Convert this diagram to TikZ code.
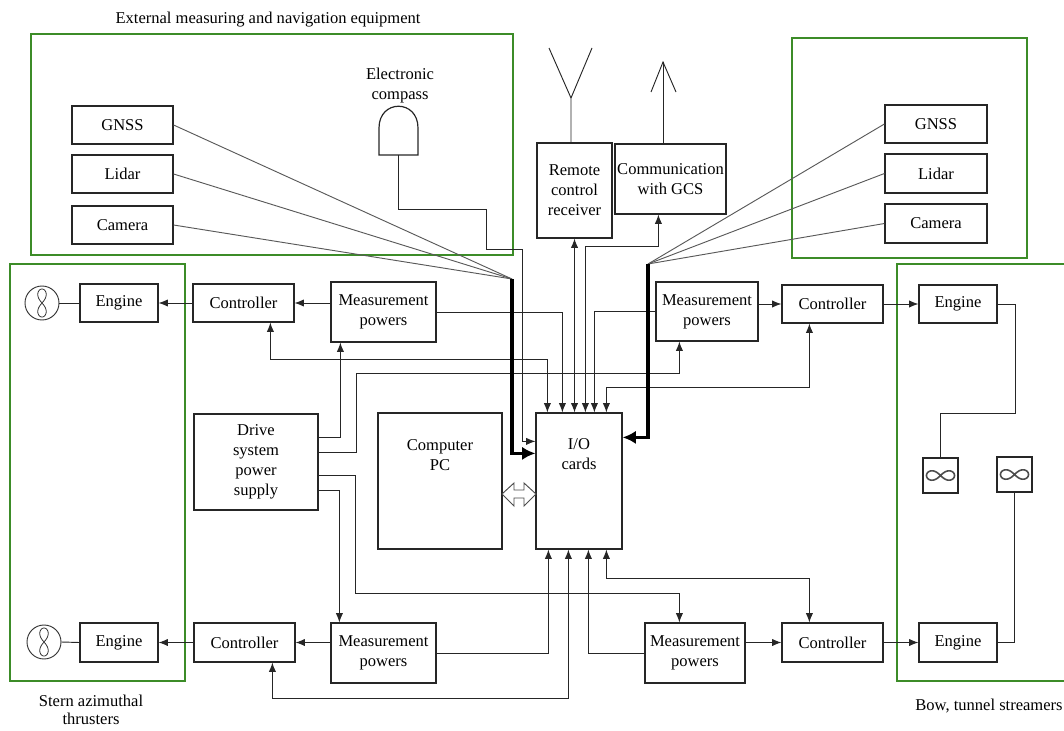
\documentclass[tikz,border=0pt]{standalone}
\usepackage{fontspec}
\setmainfont{Liberation Serif}
\usetikzlibrary{arrows.meta,calc}
\definecolor{grn}{RGB}{60,140,40}
\begin{document}
\begin{tikzpicture}[x=0.75pt,y=-0.75pt,
  every node/.style={font=\fontsize{12.4}{15}\selectfont},
  box/.style={draw=black!85, line width=0.9pt, inner sep=0pt, align=center},
  sz/.style 2 args={minimum width=#1*0.75pt, minimum height=#2*0.75pt},
  grp/.style={draw=grn, line width=1.5pt},
  ln/.style={draw=black!85, line width=0.7pt},
  fan/.style={draw=black!65, line width=0.7pt},
  ar/.style={ln, -{Latex[length=7pt,width=5.5pt]}},
  dar/.style={ln, {Latex[length=7pt,width=5.5pt]}-{Latex[length=7pt,width=5.5pt]}},
  thk/.style={draw=black, line width=2.6pt, -{Latex[length=10pt,width=10pt]}},
  txt/.style={align=center, inner sep=0pt}
]
\useasboundingbox (0,0) rectangle (1064,731);

% group frames
\draw[grp] (31,34) rectangle (513,255);
\draw[grp] (792,38) rectangle (1027,258);
\draw[grp] (10,264) rectangle (185,681);
\draw[grp] (1066,264) -- (897,264) -- (897,681) -- (1066,681);

% labels
\node[txt] (title) at (268,20) {External measuring and navigation equipment};
\node[txt, font=\fontsize{12.4}{14}\selectfont] (stern) at (91,710) {Stern azimuthal\\thrusters};
\node[txt] (bow) at (989,706) {Bow, tunnel streamers};
\node[txt] (cmplab) at (400,86) {Electronic\\compass};

% sensors
\node[box, sz={101}{38}] (gnssL) at (122.5,125) {GNSS};
\node[box, sz={101}{38}] (lidarL) at (122.5,174) {Lidar};
\node[box, sz={101}{38}] (camL) at (122.5,225) {Camera};
\node[box, sz={102}{38}] (gnssR) at (936,124) {GNSS};
\node[box, sz={102}{39}] (lidarR) at (936,173.5) {Lidar};
\node[box, sz={102}{39}] (camR) at (936,223.5) {Camera};

% compass
\draw[box] (379,155) -- (379,128) .. controls (379,99) and (418,99) .. (418,128) -- (418,155) -- cycle;
\coordinate (cmp) at (398.5,155);

% radio
\node[box, sz={75}{95}] (recv) at (574.5,190.5) {Remote\\control\\receiver};
\node[box, sz={111}{70}] (comm) at (670.5,179) {Communication\\with GCS};
\coordinate (a1) at (571,98);
\draw[ln] (recv.north -| a1) -- (a1) -- (549,48);
\draw[ln] (a1) -- (592,48);
\coordinate (a2) at (663,62);
\draw[ln] (comm.north -| a2) -- (a2);
\draw[ln] (651,92) -- (a2) -- (676,92);

% central
\node[box, sz={86}{136}] (io) at (579,481) {};
\node[txt] (iolab) at (579,454) {I/O\\cards};
\node[box, sz={124}{136}] (pc) at (440,481) {};
\node[txt] (pclab) at (440,455) {Computer\\PC};
\draw[draw=black!70, line width=0.7pt, fill=white]
  (502,494) -- (514,483) -- (514,490) -- (524,490) -- (524,483) -- (536,494)
  -- (524,506) -- (524,498) -- (514,498) -- (514,506) -- cycle;

% power / control chains
\node[box, sz={105}{60}] (measTL) at (383.5,312) {Measurement\\powers};
\node[box, sz={102}{59}] (measTR) at (707,311.5) {Measurement\\powers};
\node[box, sz={105}{60}] (measBL) at (383.5,653) {Measurement\\powers};
\node[box, sz={100}{60}] (measBR) at (695,653) {Measurement\\powers};
\node[box, sz={101}{38}] (ctlTL) at (243.5,303) {Controller};
\node[box, sz={101}{38}] (ctlTR) at (832.5,304) {Controller};
\node[box, sz={101}{39}] (ctlBL) at (244.5,642.5) {Controller};
\node[box, sz={101}{39}] (ctlBR) at (832.5,642.5) {Controller};
\node[box, sz={78}{38}] (engTL) at (119,303) {Engine};
\node[box, sz={78}{38}] (engTR) at (958,304) {Engine};
\node[box, sz={78}{39}] (engBL) at (119,642.5) {Engine};
\node[box, sz={78}{39}] (engBR) at (958,642.5) {Engine};
\node[box, sz={124}{96}] (drive) at (256,462) {Drive\\system\\power\\supply};
\node[box, sz={35}{35}] (infL) at (940.5,475.5) {};
\node[box, sz={35}{35}] (infR) at (1014.5,474.5) {};
\node[draw=black!80, line width=0.7pt, circle, minimum size=34*0.75pt, inner sep=0pt] (propTL) at (42,303) {};
\node[draw=black!80, line width=0.7pt, circle, minimum size=34*0.75pt, inner sep=0pt] (propBL) at (44,642) {};

% propeller and infinity symbols
\foreach \p in {propTL,propBL}
  \draw[line width=0.6pt, black!80, shift={(\p.center)}] plot[domain=0:360, samples=90, smooth]
    ({0.85*14*sin(\x)*cos(\x)/(1+sin(\x)*sin(\x))}, {14*cos(\x)/(1+sin(\x)*sin(\x))});
\foreach \p in {infL,infR}
  \draw[line width=1.2pt, black!70, shift={(\p.center)}] plot[domain=0:360, samples=90, smooth]
    ({14*cos(\x)/(1+sin(\x)*sin(\x))}, {0.95*14*sin(\x)*cos(\x)/(1+sin(\x)*sin(\x))});

% horizontal chains
\draw[ar] (measTL.west |- ctlTL.east) -- (ctlTL.east);
\draw[ar] (ctlTL.west) -- (engTL.east);
\draw[ln] (engTL.west) -- (propTL.east);
\draw[ar] (measBL.west |- ctlBL.east) -- (ctlBL.east);
\draw[ar] (ctlBL.west) -- (engBL.east);
\draw[ln] (engBL.west) -- (propBL.east);
\draw[ar] (measTR.east |- ctlTR.west) -- (ctlTR.west);
\draw[ar] (ctlTR.east) -- (engTR.west);
\draw[ar] (measBR.east |- ctlBR.west) -- (ctlBR.west);
\draw[ar] (ctlBR.east) -- (engBR.west);

% engines to motor symbols
\draw[ln] (engTR.east) -- ++(18,0) -- ++(0,109) -| (infL.north);
\draw[ln] (infR.south) |- (engBR.east);

% I/O pins
\coordinate (t1) at ($(io.north west)+(12,0)$);
\coordinate (t2) at ($(io.north west)+(27,0)$);
\coordinate (t3) at (recv.south |- io.north);
\coordinate (t4) at ($(io.north west)+(50,0)$);
\coordinate (t5) at ($(io.north west)+(59,0)$);
\coordinate (t6) at ($(io.north west)+(71,0)$);
\coordinate (b1) at ($(io.south west)+(13,0)$);
\coordinate (b2) at ($(io.south west)+(33,0)$);
\coordinate (b3) at ($(io.south west)+(53,0)$);
\coordinate (b4) at ($(io.south west)+(71,0)$);

\draw[dar] ($(ctlTL.south west)+(78,0)$) -- ++(0,37) -| (t1);
\draw[ar] (measTL.east) -| (t2);
\draw[dar] (recv.south) -- (t3);
\draw[dar] ($(comm.south west)+(44,0)$) -- ++(0,32) -| (t4);
\draw[ar] (measTR.west) -| (t5);
\draw[dar] ($(ctlTR.south west)+(28,0)$) -- ++(0,64) -| (t6);

\draw[ar] (measBL.east) -| (b1);
\draw[dar] ($(ctlBL.south west)+(79,0)$) -- ++(0,36) -| (b2);
\draw[ar] (measBR.west) -| (b3);
\draw[dar] ($(ctlBR.north west)+(28,0)$) -- ++(0,-44) -| (b4);

% drive supply outputs
\draw[ar] ($(drive.north east)+(0,24)$) -| ($(measTL.south west)+(10,0)$);
\draw[ar] ($(drive.north east)+(0,39)$) -- ++(38,0) -- ++(0,-79) -| ($(measTR.south west)+(24,0)$);
\draw[ar] ($(drive.north east)+(0,62)$) -- ++(37,0) -- ++(0,118) -| ($(measBR.north west)+(35,0)$);
\draw[ar] ($(drive.north east)+(0,77)$) -| ($(measBL.north west)+(9,0)$);

% compass to I/O
\draw[ar] (cmp) |- (486,209) |- (522,249) |- ($(io.north west)+(0,29)$);

% sensor fans
\coordinate (jL) at (512,279);
\coordinate (jR) at (648,264);
\draw[fan] (gnssL.east) -- (jL);
\draw[fan] (lidarL.east) -- (jL);
\draw[fan] (camL.east) -- (jL);
\draw[fan] (gnssR.west) -- (jR);
\draw[fan] (lidarR.west) -- (jR);
\draw[fan] (camR.west) -- (jR);
\draw[thk] (jL) |- ($(io.north west)+(0,41)$);
\draw[thk] (jR) |- ($(io.north east)+(0,25)$);
\end{tikzpicture}
\end{document}
